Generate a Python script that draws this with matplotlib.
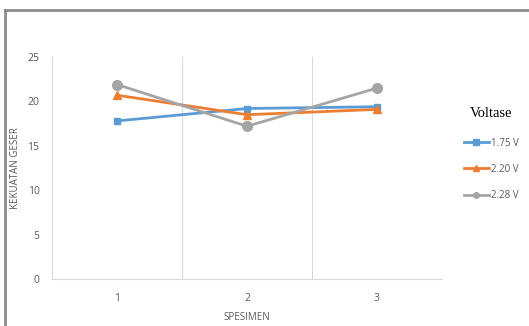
import matplotlib.pyplot as plt
from matplotlib.lines import Line2D

# data
spesimen = ["1", "2", "3"]
v175 = [17.8, 19.2, 19.4]
v220 = [20.7, 18.5, 19.1]
v228 = [21.9, 17.2, 21.5]
series_names = ["1.75 V", "2.20 V", "2.28 V"]

colors = ["#5B9BD5", "#ED7D31", "#A5A5A5"]
markers = ["s", "^", "o"]
msizes = [5, 6, 7]

plt.rcParams['font.family'] = ['Open Sans', 'DejaVu Sans']

fig = plt.figure(figsize=(5.29, 3.26), dpi=100)
ax = fig.add_axes([52 / 529, 1 - 279 / 326, (442 - 52) / 529, (279 - 57) / 326])

x = range(len(spesimen))
for vals, name, c, m, ms in zip([v175, v220, v228], series_names, colors, markers, msizes):
    ax.plot(x, vals, color=c, marker=m, markersize=ms, lw=2, label=name)

ax.set_xlim(-0.5, len(spesimen) - 0.5)
ax.set_ylim(0, 25)
ax.set_yticks([0, 5, 10, 15, 20, 25])
ax.set_xticks(list(x))
ax.set_xticklabels(spesimen)

# vertical gridlines between categories (Excel style)
for b in [0.5, 1.5, 2.5]:
    ax.axvline(b, color="#D9D9D9", lw=0.8, zorder=0)

for s in ["top", "right"]:
    ax.spines[s].set_visible(False)
ax.spines["left"].set_color("#D9D9D9")
ax.spines["bottom"].set_color("#D9D9D9")
ax.tick_params(length=0, labelsize=7.5, colors="#595959")
ax.tick_params(axis="y", pad=9)
ax.tick_params(axis="x", pad=10)

ax.set_xlabel("SPESIMEN", fontsize=7, color="#595959", labelpad=6)
ax.set_ylabel("KEKUATAN GESER", fontsize=7, color="#595959", labelpad=5)

# legend on the right
handles = [Line2D([], [], color=c, marker=m, markersize=4, lw=2) for c, m in zip(colors, markers)]
leg = fig.legend(handles, series_names, loc="upper left", bbox_to_anchor=(455 / 529, 1 - 98 / 326),
                 frameon=False, fontsize=7, handlelength=2.6, labelspacing=1.55,
                 handletextpad=0.2, title="Voltase")
leg.get_title().set_fontfamily("Liberation Serif")
leg.get_title().set_fontsize(10.5)
leg._legend_box.sep = 13
for t in leg.get_texts():
    t.set_color("#595959")

# outer frame of the screenshot
fig.add_artist(Line2D([5 / 529, 5 / 529], [0, 1 - 10 / 326], transform=fig.transFigure, color="#8C8C8C", lw=2))
fig.add_artist(Line2D([5 / 529, 1], [1 - 10 / 326, 1 - 10 / 326], transform=fig.transFigure, color="#8C8C8C", lw=2))

fig.savefig("out.png", dpi=100)
